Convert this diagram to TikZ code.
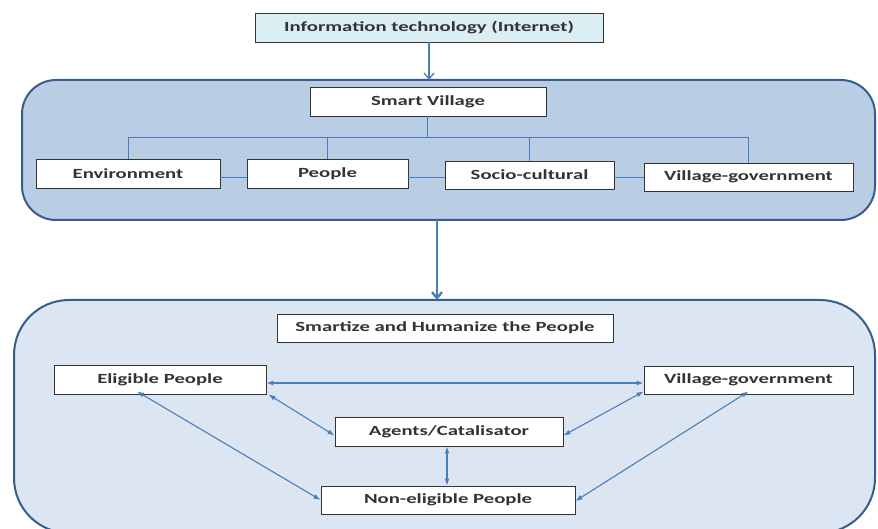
\documentclass[tikz,border=0pt]{standalone}
\usepackage{graphicx}
\usepackage{fontspec}
\setmainfont{Carlito}
\usetikzlibrary{arrows.meta,calc}
\definecolor{boxborder}{HTML}{385D8A}
\definecolor{upfill}{HTML}{B9CDE5}
\definecolor{lowfill}{HTML}{DCE6F2}
\definecolor{topfill}{HTML}{DBEEF4}
\definecolor{linkblue}{HTML}{4A7EBB}
\newcommand{\sx}[1]{\scalebox{1.48}[1.0]{#1}}
\tikzset{
  container/.style={draw=boxborder, line width=2pt},
  wbox/.style={draw=black!80, line width=0.9pt, fill=white, inner sep=0pt,
    font=\fontsize{14}{16}\selectfont\bfseries, text=black!80},
  tree/.style={draw=linkblue, line width=1pt},
  biarrow/.style={draw=linkblue, line width=1.1pt, {Latex[length=7pt,width=5pt]}-{Latex[length=7pt,width=5pt]}},
  openarrow/.style={draw=linkblue, -{Straight Barb[length=6pt,width=10pt]}}
}
\begin{document}
\begin{tikzpicture}[x=1pt,y=-1pt]
\useasboundingbox (0,0) rectangle (878,529);
\begin{scope}
\clip (0,0) rectangle (878,529);
% containers
\draw[container, fill=upfill, rounded corners=34pt] (22,80) rectangle (875,220);
\draw[container, fill=lowfill, rounded corners=55pt] (14,300) rectangle (875,533);
% top box
\node[wbox, fill=topfill, minimum width=348pt, minimum height=29pt] (it) at (429,27.5) {\sx{Information technology (Internet)}};
% upper nodes
\node[wbox, minimum width=236pt, minimum height=29pt] (sv) at (428,101.5) {\sx{Smart Village}};
\node[wbox, minimum width=184pt, minimum height=29pt] (env) at (128,173.5) {\sx{Environment}};
\node[wbox, minimum width=161pt, minimum height=29pt] (ppl) at (327.5,173.5) {\sx{People}};
\node[wbox, minimum width=169pt, minimum height=28pt] (soc) at (529.5,175) {\sx{Socio-cultural}};
\node[wbox, minimum width=209pt, minimum height=28pt] (vgu) at (748.5,177) {\sx{Village-government}};
% lower nodes
\node[wbox, minimum width=336pt, minimum height=28pt] (sh) at (445,328) {\sx{Smartize and Humanize the People}};
\node[wbox, minimum width=212pt, minimum height=29pt] (elig) at (160,379.5) {\sx{Eligible People}};
\node[wbox, minimum width=209pt, minimum height=28pt] (vgl) at (748.5,380) {\sx{Village-government}};
\node[wbox, minimum width=228pt, minimum height=29pt] (ag) at (449,431.5) {\sx{Agents/Catalisator}};
\node[wbox, minimum width=254pt, minimum height=28pt] (ne) at (448,500) {\sx{Non-eligible People}};
\coordinate (upbot) at (437,220);
\coordinate (lowtop) at (437,300);
\coordinate (uptop) at (429,80);
\end{scope}
% arrows between levels
\draw[openarrow, line width=1.3pt] (it.south) -- (uptop);
\draw[openarrow, line width=2.4pt] (upbot) -- (lowtop);
% tree
\coordinate (tj) at (427,138);
\draw[tree] (sv.south -| tj) -- (tj);
\draw[tree] (env.north |- tj) -- (vgu.north |- tj);
\draw[tree] (env.north |- tj) -- (env.north);
\draw[tree] (ppl.north |- tj) -- (ppl.north);
\draw[tree] (soc.north |- tj) -- (soc.north);
\draw[tree] (vgu.north |- tj) -- (vgu.north);
\coordinate (hl) at (0,178);
\draw[tree] (env.east |- hl) -- (ppl.west |- hl);
\draw[tree] (ppl.east |- hl) -- (soc.west |- hl);
\draw[tree] (soc.east |- hl) -- (vgu.west |- hl);
% double arrows
\coordinate (hl2) at (0,383);
\draw[biarrow] (elig.east |- hl2) -- (vgl.west |- hl2);
\draw[biarrow] ([xshift=2pt]elig.south east) -- ([yshift=-4pt]ag.west);
\draw[biarrow] ([xshift=-23pt,yshift=3pt]elig.south) -- (ne.west);
\draw[biarrow] ([yshift=3pt]vgl.south west) -- ([yshift=-4pt]ag.east);
\draw[biarrow] ([xshift=-2pt]ag.south) -- ([xshift=-1pt]ne.north);
\draw[biarrow] ([yshift=3pt]vgl.south) -- ([yshift=-1pt]ne.east);
\end{tikzpicture}
\end{document}
